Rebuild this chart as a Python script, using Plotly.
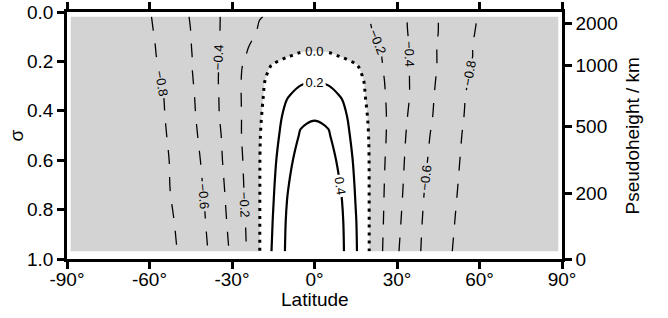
import math
import plotly.graph_objects as go

# ---- data ----
lat = [-88.75, -75, -60, -55, -50, -45, -40, -35, -30, -25, -20, -15, -10, -5, 0,
       5, 10, 15, 20, 25, 30, 35, 40, 45, 50, 55, 60, 75, 88.75]
sigma = [0.018, 0.08, 0.14, 0.18, 0.22, 0.28, 0.34, 0.42, 0.50, 0.60, 0.72, 0.85, 0.97]

row_018 = [-0.96, -0.92, -0.81, -0.74, -0.67, -0.59, -0.50, -0.41, -0.34, -0.27, -0.205, -0.185, -0.16, -0.145, -0.14,
           -0.145, -0.16, -0.185, -0.205, -0.28, -0.35, -0.42, -0.51, -0.60, -0.67, -0.75, -0.81, -0.92, -0.96]
row_08 = [-0.96, -0.92, -0.82, -0.75, -0.68, -0.60, -0.50, -0.41, -0.33, -0.25, -0.185, -0.15, -0.12, -0.105, -0.10,
          -0.105, -0.12, -0.15, -0.185, -0.25, -0.33, -0.42, -0.51, -0.60, -0.68, -0.76, -0.82, -0.92, -0.96]
row_14 = [-0.96, -0.92, -0.83, -0.76, -0.68, -0.605, -0.51, -0.41, -0.31, -0.22, -0.13, -0.08, -0.05, -0.035, -0.03,
          -0.035, -0.05, -0.08, -0.13, -0.22, -0.32, -0.41, -0.51, -0.61, -0.69, -0.77, -0.83, -0.92, -0.96]
row_18 = [-0.96, -0.92, -0.83, -0.77, -0.69, -0.61, -0.51, -0.396, -0.30, -0.199, -0.12, -0.06, -0.005, 0.025, 0.035,
          0.025, -0.005, -0.06, -0.12, -0.21, -0.31, -0.41, -0.51, -0.61, -0.69, -0.77, -0.83, -0.92, -0.96]
row_22 = [-0.96, -0.92, -0.84, -0.78, -0.70, -0.61, -0.51, -0.402, -0.29, -0.17, -0.08, 0.02, 0.065, 0.09, 0.10,
          0.09, 0.065, 0.02, -0.09, -0.204, -0.31, -0.41, -0.51, -0.61, -0.70, -0.78, -0.84, -0.92, -0.96]
row_28 = [-0.96, -0.92, -0.85, -0.79, -0.70, -0.62, -0.51, -0.401, -0.28, -0.16, -0.045, 0.07, 0.14, 0.18, 0.195,
          0.18, 0.14, 0.07, -0.05, -0.19, -0.30, -0.41, -0.52, -0.62, -0.71, -0.79, -0.85, -0.92, -0.96]
row_34 = [-0.96, -0.92, -0.85, -0.803, -0.72, -0.63, -0.52, -0.405, -0.28, -0.16, -0.035, 0.09, 0.19, 0.25, 0.27,
          0.25, 0.19, 0.09, -0.04, -0.18, -0.30, -0.41, -0.53, -0.63, -0.72, -0.802, -0.85, -0.92, -0.96]
row_42 = [-0.96, -0.92, -0.86, -0.81, -0.73, -0.64, -0.53, -0.41, -0.29, -0.16, -0.02, 0.11, 0.25, 0.36, 0.38,
          0.36, 0.25, 0.11, -0.02, -0.17, -0.30, -0.43, -0.54, -0.64, -0.73, -0.81, -0.86, -0.92, -0.96]
row_50 = [-0.96, -0.93, -0.86, -0.82, -0.74, -0.65, -0.55, -0.43, -0.29, -0.16, -0.01, 0.14, 0.28, 0.42, 0.46,
          0.42, 0.28, 0.14, -0.01, -0.17, -0.31, -0.45, -0.56, -0.66, -0.75, -0.82, -0.86, -0.93, -0.96]
row_60 = [-0.96, -0.93, -0.87, -0.83, -0.76, -0.67, -0.57, -0.44, -0.31, -0.17, -0.005, 0.16, 0.34, 0.48, 0.50,
          0.48, 0.34, 0.16, -0.005, -0.18, -0.33, -0.46, -0.58, -0.67, -0.76, -0.83, -0.87, -0.93, -0.96]
row_72 = [-0.96, -0.93, -0.87, -0.83, -0.77, -0.68, -0.59, -0.46, -0.33, -0.18, -0.005, 0.185, 0.39, 0.51, 0.53,
          0.51, 0.39, 0.185, -0.005, -0.19, -0.34, -0.48, -0.601, -0.69, -0.78, -0.83, -0.87, -0.93, -0.96]
row_85 = [-0.96, -0.93, -0.88, -0.84, -0.79, -0.70, -0.61, -0.48, -0.35, -0.196, -0.005, 0.21, 0.42, 0.53, 0.55,
          0.53, 0.42, 0.21, -0.005, -0.198, -0.36, -0.50, -0.62, -0.70, -0.79, -0.84, -0.88, -0.93, -0.96]
row_97 = [-0.96, -0.93, -0.88, -0.85, -0.801, -0.71, -0.63, -0.51, -0.37, -0.21, -0.005, 0.23, 0.43, 0.54, 0.56,
          0.54, 0.43, 0.22, -0.005, -0.21, -0.38, -0.52, -0.63, -0.72, -0.799, -0.85, -0.88, -0.93, -0.96]

field = [row_018, row_08, row_14, row_18, row_22, row_28, row_34, row_42,
         row_50, row_60, row_72, row_85, row_97]

lat_ticks = [-90, -60, -30, 0, 30, 60, 90]
lat_ticktext = ["-90°", "-60°", "-30°", "0°", "30°", "60°", "90°"]
sigma_ticks = [0.0, 0.2, 0.4, 0.6, 0.8, 1.0]
pseudo_km = [0, 200, 500, 1000, 2000]
scale_height_km = 650.0

pseudo_pos = [math.exp(-z / scale_height_km) for z in pseudo_km]

FONT = "Liberation Sans, Arial, Helvetica, sans-serif"
GRAY = "#d3d3d3"

fig = go.Figure()

# negative region shading (plotly shades the region outside the kept constraint)
fig.add_trace(go.Contour(
    x=lat, y=sigma, z=field,
    contours=dict(type="constraint", operation=">", value=0),
    fillcolor=GRAY, line=dict(width=0, color=GRAY),
    showscale=False, hoverinfo="skip",
))

label_font = dict(family=FONT, size=13, color="black")

# negative contours: dashed
fig.add_trace(go.Contour(
    x=lat, y=sigma, z=field,
    contours=dict(start=-0.8, end=-0.2, size=0.2, coloring="none",
                  showlabels=True, labelfont=label_font, labelformat=".1f"),
    line=dict(color="black", width=1.3, dash="14px,13px"),
    showscale=False, hoverinfo="skip",
))
# zero contour: dotted
fig.add_trace(go.Contour(
    x=lat, y=sigma, z=field,
    contours=dict(start=0, end=0, size=0.2, coloring="none",
                  showlabels=True, labelfont=label_font, labelformat=".1f"),
    line=dict(color="black", width=3, dash="3px,5px"),
    showscale=False, hoverinfo="skip",
))
# positive contours: solid
fig.add_trace(go.Contour(
    x=lat, y=sigma, z=field,
    contours=dict(start=0.2, end=0.4, size=0.2, coloring="none",
                  showlabels=True, labelfont=label_font, labelformat=".1f"),
    line=dict(color="black", width=2.2),
    showscale=False, hoverinfo="skip",
))
# anchor for right axis
fig.add_trace(go.Scatter(x=[0], y=[0.5], yaxis="y2", mode="markers",
                         marker=dict(opacity=0), hoverinfo="skip", showlegend=False))

tickfont = dict(family=FONT, size=19, color="black")
axis_common = dict(ticks="outside", ticklen=7, tickwidth=2.5, tickcolor="black",
                   showline=True, linewidth=2.5, linecolor="black",
                   showgrid=False, zeroline=False, tickfont=tickfont, automargin=False,
                   ticklabeloverflow="allow")

fig.update_layout(
    width=668, height=318,
    margin=dict(l=67, r=106, t=12, b=59),
    paper_bgcolor="white", plot_bgcolor="white",
    showlegend=False,
    font=dict(family=FONT, color="black"),
    xaxis=dict(range=[-90, 90], tickvals=lat_ticks, ticktext=lat_ticktext,
               mirror="ticks", ticklabelstandoff=-6, **axis_common),
    yaxis=dict(range=[1, 0], tickvals=sigma_ticks,
               ticktext=[f"{v:.1f}" for v in sigma_ticks], **axis_common),
    yaxis2=dict(range=[1, 0], overlaying="y", side="right", tickvals=pseudo_pos,
                ticktext=[str(v) for v in pseudo_km], **axis_common),
    annotations=[
        dict(text="Latitude", xref="paper", yref="paper", x=0.5, y=-0.162,
             xanchor="center", yanchor="middle", showarrow=False,
             font=dict(family=FONT, size=19, color="black")),
        dict(text="σ", xref="paper", yref="paper", x=-0.103, y=0.5,
             xanchor="center", yanchor="middle", showarrow=False, textangle=-90,
             font=dict(family=FONT, size=19, color="black")),
        dict(text="Pseudoheight / km", xref="paper", yref="paper", x=1.1434, y=0.5,
             xanchor="center", yanchor="middle", showarrow=False, textangle=-90,
             font=dict(family=FONT, size=19, color="black")),
    ],
)

fig.write_html("out.html",
               config={"displayModeBar": False},
               post_script="document.body.style.margin='0';document.body.style.overflow='hidden';")
